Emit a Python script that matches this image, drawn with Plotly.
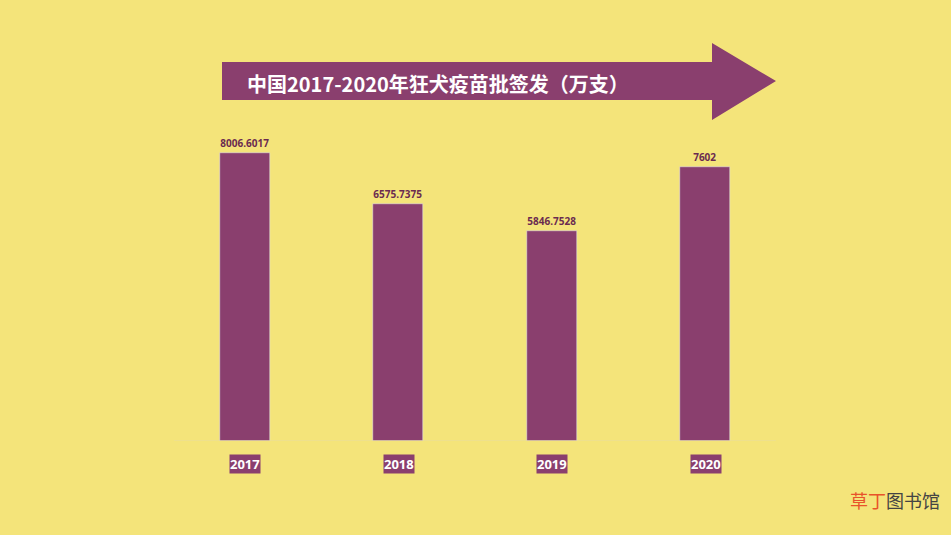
import plotly.graph_objects as go

years = ["2017", "2018", "2019", "2020"]
values = [8006.6017, 6575.7375, 5846.7528, 7602]
value_labels = ["8006.6017", "6575.7375", "5846.7528", "7602"]
title = "中国2017-2020年狂犬疫苗批签发（万支）"

BG = "#f4e47a"
PURPLE = "#8a3f6e"
W, H = 951, 535
L, R, T, B = 168, 169, 81, 94
fig = go.Figure(go.Bar(x=years, y=values, marker_color=PURPLE, width=0.326,
                       text=["<b>" + v + "</b>" for v in value_labels], textposition="outside",
                       textfont=dict(size=10, color="#6b2b50", family="Noto Sans"),
                       cliponaxis=False, hoverinfo="skip"))
pw, ph = W - L - R, H - T - B
def qx(x): return (x - L) / pw
def qy(y): return (H - B - y) / ph

for i, y in enumerate(years):
    fig.add_annotation(x=qx(245 + 153.5 * i), y=qy(464), xref="paper", yref="paper",
                       xanchor="center", yanchor="middle",
                       text="<b>" + y + "</b>", showarrow=False,
                       bgcolor=PURPLE, font=dict(color="white", size=13, family="Noto Sans"),
                       borderpad=0)
fig.add_shape(type="line", xref="paper", yref="y", x0=0.01, x1=0.99, y0=0, y1=0,
              line=dict(color="#e8dca0", width=1))
path = (f"M {qx(222)},{qy(62)} L {qx(712)},{qy(62)} L {qx(712)},{qy(43)} L {qx(776)},{qy(81)} "
        f"L {qx(712)},{qy(120)} L {qx(712)},{qy(100)} L {qx(222)},{qy(100)} Z")
fig.add_shape(type="path", xref="paper", yref="paper", path=path, fillcolor=PURPLE, line_width=0, layer="below")
fig.add_annotation(xref="paper", yref="paper", x=qx(245), y=qy(83), xanchor="left", yanchor="middle",
                   text="<b>" + title + "</b>", showarrow=False,
                   font=dict(color="white", size=20, family="Noto Sans CJK SC"))
fig.add_annotation(xref="paper", yref="paper", x=qx(942), y=qy(500), xanchor="right", yanchor="middle",
                   text="<span style='color:#e8532a'>草丁</span><span style='color:#444'>图书馆</span>",
                   showarrow=False, font=dict(size=18, family="Noto Sans CJK SC"))
fig.update_layout(
    width=W, height=H, paper_bgcolor=BG, plot_bgcolor=BG, showlegend=False,
    margin=dict(l=L, r=R, t=T, b=B),
    xaxis=dict(range=[-0.5, 3.5], showticklabels=False, showgrid=False, zeroline=False),
    yaxis=dict(range=[0, 10000], visible=False),
    bargap=0,
)
fig.write_html("out.html", config={"displayModeBar": False},
               post_script="document.body.style.margin='0';document.body.style.background='" + BG + "';")
